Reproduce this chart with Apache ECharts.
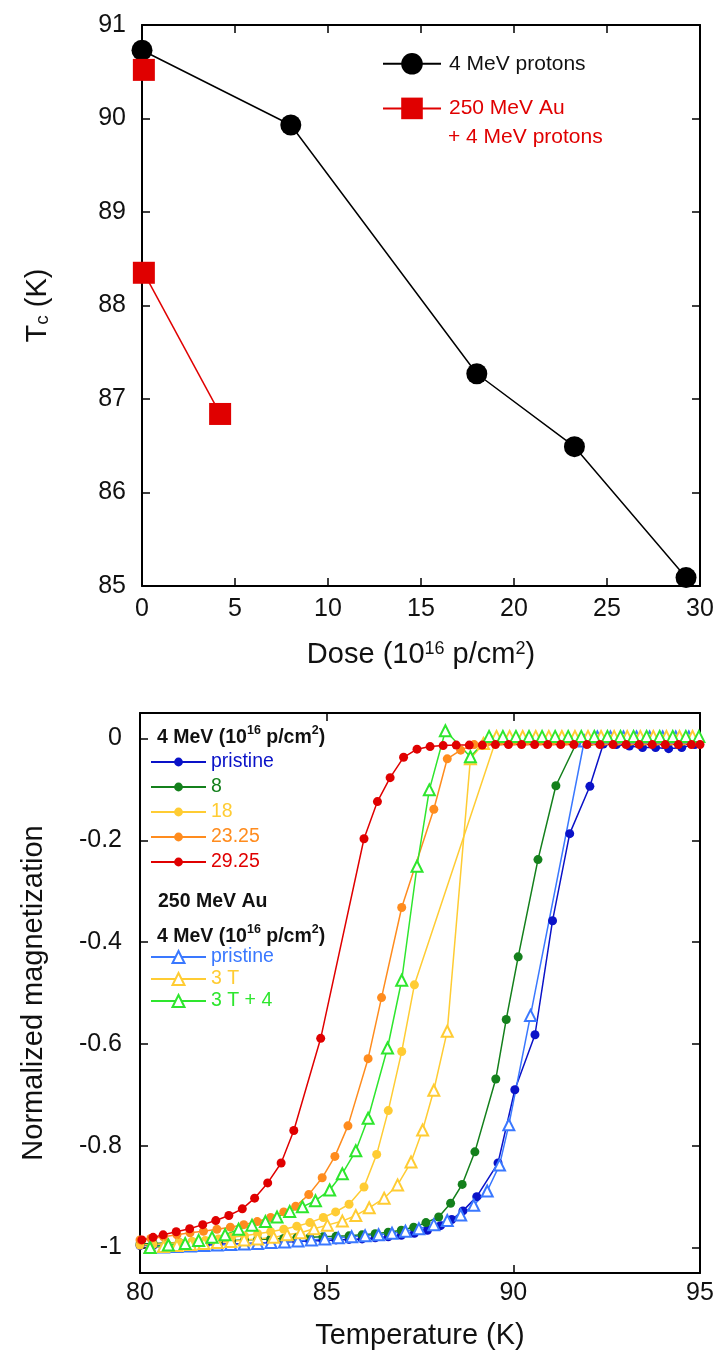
<!DOCTYPE html>
<html><head><meta charset="utf-8">
<script src="https://cdn.jsdelivr.net/npm/echarts@6/dist/echarts.min.js"></script>
<style>html,body{margin:0;padding:0;background:#fff}#c{width:719px;height:1356px}</style>
</head><body><div id="c"></div>
<script>
// ---------- Top panel: Tc vs dose ----------
const doseProtons = [0, 8, 18, 23.25, 29.25];
const tcProtons = [90.73, 89.93, 87.27, 86.49, 85.09];
const doseAuPristine = [0.1];
const tcAuPristine = [90.52];
const doseAu = [0.1, 4.2];
const tcAu = [88.35, 86.84];
const doseTicks = [0, 5, 10, 15, 20, 25, 30];
const tcTicks = [85, 86, 87, 88, 89, 90, 91];

// ---------- Bottom panel: normalized magnetization vs T ----------
const tempTicks = [80, 85, 90, 95];
const magTicks = [-1, -0.8, -0.6, -0.4, -0.2, 0];

const mPristine = [[80.0,-0.996],[80.35,-0.996],[80.7,-0.995],[81.05,-0.995],[81.4,-0.994],[81.75,-0.994],[82.1,-0.993],[82.45,-0.993],[82.8,-0.992],[83.15,-0.991],[83.5,-0.99],[83.85,-0.989],[84.2,-0.988],[84.55,-0.987],[84.9,-0.986],[85.25,-0.985],[85.6,-0.984],[85.95,-0.983],[86.3,-0.981],[86.65,-0.979],[87.0,-0.976],[87.35,-0.972],[87.7,-0.966],[88.05,-0.957],[88.35,-0.945],[88.65,-0.928],[89.02,-0.9],[89.59,-0.834],[90.04,-0.69],[90.58,-0.582],[91.05,-0.358],[91.51,-0.187],[92.05,-0.094],[92.41,-0.011],[92.76,-0.012],[93.11,-0.015],[93.46,-0.018],[93.81,-0.018],[94.16,-0.02],[94.51,-0.018],[94.86,-0.012]];
const m8 = [[80.0,-0.993],[80.35,-0.992],[80.7,-0.991],[81.05,-0.99],[81.4,-0.989],[81.75,-0.988],[82.1,-0.987],[82.45,-0.986],[82.8,-0.985],[83.15,-0.984],[83.5,-0.983],[83.85,-0.982],[84.2,-0.981],[84.55,-0.98],[84.9,-0.979],[85.25,-0.978],[85.6,-0.977],[85.95,-0.975],[86.3,-0.973],[86.65,-0.97],[87.0,-0.966],[87.33,-0.96],[87.66,-0.951],[88.0,-0.94],[88.32,-0.913],[88.63,-0.876],[88.97,-0.812],[89.53,-0.669],[89.81,-0.552],[90.13,-0.429],[90.66,-0.238],[91.14,-0.093],[91.71,-0.006],[92.06,-0.006],[92.41,-0.006],[92.76,-0.006],[93.11,-0.006],[93.46,-0.006],[93.81,-0.006],[94.16,-0.006],[94.51,-0.006],[94.86,-0.006]];
const m18 = [[80.0,-0.995],[80.35,-0.994],[80.7,-0.992],[81.05,-0.99],[81.4,-0.988],[81.75,-0.986],[82.1,-0.983],[82.45,-0.98],[82.8,-0.977],[83.15,-0.973],[83.5,-0.969],[83.85,-0.964],[84.2,-0.958],[84.55,-0.951],[84.91,-0.941],[85.24,-0.93],[85.6,-0.915],[86.0,-0.881],[86.34,-0.817],[86.65,-0.731],[87.01,-0.615],[87.35,-0.484],[89.53,-0.004],[89.88,-0.003],[90.23,-0.003],[90.58,-0.003],[90.93,-0.003],[91.28,-0.003],[91.63,-0.003],[91.98,-0.003],[92.33,-0.003],[92.68,-0.003],[93.03,-0.003],[93.38,-0.003],[93.73,-0.003],[94.08,-0.003],[94.43,-0.003],[94.78,-0.003]];
const m2325 = [[80.0,-0.985],[80.29,-0.982],[80.63,-0.979],[80.99,-0.975],[81.34,-0.971],[81.7,-0.968],[82.06,-0.964],[82.42,-0.96],[82.78,-0.955],[83.14,-0.949],[83.5,-0.941],[83.85,-0.93],[84.17,-0.919],[84.52,-0.896],[84.88,-0.863],[85.22,-0.821],[85.57,-0.761],[86.11,-0.629],[86.47,-0.509],[87.01,-0.332],[87.87,-0.139],[88.23,-0.04],[88.59,-0.023],[88.95,-0.012],[89.3,-0.006],[89.65,-0.005],[90.0,-0.005],[90.35,-0.005],[90.7,-0.005],[91.05,-0.005],[91.4,-0.005],[91.75,-0.005],[92.1,-0.005],[92.45,-0.005],[92.8,-0.005],[93.15,-0.005],[93.5,-0.005],[93.85,-0.005],[94.2,-0.005],[94.55,-0.005],[94.9,-0.005]];
const m2925 = [[80.05,-0.985],[80.35,-0.98],[80.62,-0.975],[80.97,-0.969],[81.33,-0.963],[81.68,-0.955],[82.03,-0.947],[82.38,-0.937],[82.74,-0.924],[83.07,-0.903],[83.42,-0.873],[83.78,-0.834],[84.12,-0.77],[84.84,-0.589],[86.0,-0.197],[86.36,-0.124],[86.7,-0.077],[87.06,-0.037],[87.42,-0.021],[87.77,-0.016],[88.12,-0.014],[88.47,-0.013],[88.82,-0.013],[89.17,-0.013],[89.52,-0.012],[89.87,-0.012],[90.22,-0.012],[90.57,-0.012],[90.92,-0.012],[91.27,-0.012],[91.62,-0.012],[91.97,-0.012],[92.32,-0.012],[92.67,-0.012],[93.02,-0.012],[93.37,-0.012],[93.72,-0.012],[94.07,-0.012],[94.42,-0.012],[94.77,-0.012],[95.0,-0.012]];
const mAuPristine = [[80.27,-1.0],[80.63,-0.999],[80.99,-0.998],[81.35,-0.997],[81.71,-0.996],[82.07,-0.995],[82.43,-0.994],[82.79,-0.993],[83.15,-0.992],[83.51,-0.99],[83.87,-0.989],[84.23,-0.987],[84.59,-0.985],[84.95,-0.983],[85.31,-0.981],[85.67,-0.979],[86.03,-0.977],[86.39,-0.975],[86.75,-0.972],[87.11,-0.968],[87.47,-0.963],[87.87,-0.955],[88.23,-0.947],[88.59,-0.936],[88.94,-0.917],[89.3,-0.889],[89.63,-0.838],[89.88,-0.759],[90.46,-0.544],[91.9,-0.005],[92.25,0.003],[92.6,0.003],[92.95,0.003],[93.3,0.003],[93.65,0.003],[94.0,0.003],[94.35,0.003],[94.7,0.003]];
const m3T = [[80.27,-1.0],[80.63,-0.998],[80.99,-0.996],[81.35,-0.994],[81.71,-0.992],[82.07,-0.99],[82.43,-0.988],[82.79,-0.985],[83.15,-0.983],[83.58,-0.98],[83.94,-0.975],[84.3,-0.971],[84.66,-0.963],[85.02,-0.956],[85.42,-0.948],[85.78,-0.937],[86.14,-0.922],[86.54,-0.903],[86.9,-0.877],[87.26,-0.832],[87.57,-0.769],[87.87,-0.691],[88.23,-0.575],[88.85,-0.04],[89.2,-0.01],[89.55,0.004],[89.9,0.004],[90.25,0.004],[90.6,0.004],[90.95,0.004],[91.3,0.004],[91.65,0.004],[92.0,0.004],[92.35,0.004],[92.7,0.004],[93.05,0.004],[93.4,0.004],[93.75,0.004],[94.1,0.004],[94.45,0.004],[94.8,0.004]];
const m3T4 = [[80.27,-1.0],[80.76,-0.995],[81.21,-0.992],[81.57,-0.986],[81.93,-0.98],[82.28,-0.975],[82.64,-0.964],[83.0,-0.956],[83.36,-0.949],[83.67,-0.94],[84.01,-0.929],[84.35,-0.92],[84.7,-0.908],[85.08,-0.887],[85.42,-0.855],[85.78,-0.81],[86.11,-0.746],[86.63,-0.608],[87.01,-0.475],[87.42,-0.251],[87.75,-0.101],[88.18,0.015],[88.85,-0.036],[89.35,0.004],[89.72,0.004],[90.07,0.004],[90.42,0.004],[90.77,0.004],[91.12,0.004],[91.47,0.004],[91.82,0.004],[92.17,0.004],[92.52,0.004],[92.87,0.004],[93.22,0.004],[93.57,0.004],[93.92,0.004],[94.27,0.004],[94.62,0.004],[94.97,0.004]];

const FONT = 'Liberation Sans, Arial, Helvetica, sans-serif';
const C = {
  pristine: '#0a12c8', d8: '#14801c', d18: '#ffcc33', d2325: '#ff8c1e', d2925: '#e00000',
  auPristine: '#3a78ff', au3T: '#ffcc33', au3T4: '#2ee62e'
};

const chart = echarts.init(document.getElementById('c'), null, {renderer: 'canvas'});

function zip(xs, ys) { return xs.map((x, i) => [x, ys[i]]); }

const axisLineStyle = {onZero: false, lineStyle: {color: '#000', width: 2}};
const tickStyle = {inside: true, length: 8, lineStyle: {color: '#000', width: 1.5}};

function mirrorX(grid, min, max, interval) {
  return {gridIndex: grid, type: 'value', position: 'top', min, max, interval,
    axisLine: axisLineStyle, axisTick: tickStyle, axisLabel: {show: false}, splitLine: {show: false}};
}
function lineSeries(name, data, color, symbol, size, xi, yi) {
  return {
    name, type: 'line', data, xAxisIndex: xi, yAxisIndex: yi,
    symbol, symbolSize: size, showAllSymbol: true,
    lineStyle: {color, width: 1.5}, itemStyle: {color, borderColor: color, borderWidth: symbol.indexOf('empty') === 0 ? 1.6 : 0},
    emphasis: {disabled: true}, animation: false, z: 3
  };
}

const AU_NAME = '250 MeV Au + 4 MeV protons';
const headerRich = {
  b: {fontSize: 19.5, lineHeight: 27, fontWeight: 'bold', fontFamily: FONT, fill: '#111', verticalAlign: 'middle'},
  s: {fontSize: 12.5, lineHeight: 14, fontWeight: 'bold', fontFamily: FONT, fill: '#111', verticalAlign: 'top'}
};

const option = {
  animation: false,
  textStyle: {fontFamily: FONT},
  grid: [
    {left: 142, top: 25, width: 558, height: 561},
    {left: 140, top: 713, width: 560, height: 560}
  ],
  xAxis: [
    {gridIndex: 0, type: 'value', min: doseTicks[0], max: doseTicks[doseTicks.length - 1], interval: 5,
      axisLine: axisLineStyle, axisTick: tickStyle, splitLine: {show: false},
      axisLabel: {fontSize: 25, color: '#111', margin: 11, fontFamily: FONT},
      name: 'Dose (10{sup|16} p/cm{sup|2})', nameLocation: 'middle', nameGap: 54,
      nameTextStyle: {fontSize: 29, color: '#111', fontFamily: FONT,
        rich: {sup: {fontSize: 18, verticalAlign: 'top', color: '#111', fontFamily: FONT, padding: [0, 0, 12, 0]}}}},
    mirrorX(0, 0, 30, 5),
    {gridIndex: 1, type: 'value', min: tempTicks[0], max: tempTicks[tempTicks.length - 1], interval: 5,
      axisLine: axisLineStyle, axisTick: tickStyle, splitLine: {show: false},
      axisLabel: {fontSize: 25, color: '#111', margin: 8, fontFamily: FONT},
      name: 'Temperature (K)', nameLocation: 'middle', nameGap: 48,
      nameTextStyle: {fontSize: 29, color: '#111', fontFamily: FONT}},
    mirrorX(1, 80, 95, 5)
  ],
  yAxis: [
    {gridIndex: 0, type: 'value', min: tcTicks[0], max: tcTicks[tcTicks.length - 1], interval: 1,
      axisLine: axisLineStyle, axisTick: tickStyle, splitLine: {show: false},
      axisLabel: {fontSize: 25, color: '#111', margin: 16, fontFamily: FONT},
      name: 'T{sub|c} (K)', nameLocation: 'middle', nameRotate: 90, nameGap: 90,
      nameTextStyle: {fontSize: 29, color: '#111', fontFamily: FONT,
        rich: {sub: {fontSize: 19, verticalAlign: 'bottom', color: '#111', fontFamily: FONT}}}},
    {gridIndex: 0, type: 'value', position: 'right', min: 85, max: 91, interval: 1,
      axisLine: axisLineStyle, axisTick: tickStyle, axisLabel: {show: false}, splitLine: {show: false}},
    {gridIndex: 1, type: 'value', min: -1.05, max: 0.05,
      axisLine: axisLineStyle, axisTick: Object.assign({customValues: magTicks}, tickStyle), splitLine: {show: false},
      axisLabel: {customValues: magTicks, fontSize: 25, color: '#111', margin: 18, fontFamily: FONT},
      name: 'Normalized magnetization', nameLocation: 'middle', nameRotate: 90, nameGap: 92,
      nameTextStyle: {fontSize: 29, color: '#111', fontFamily: FONT}},
    {gridIndex: 1, type: 'value', position: 'right', min: -1.05, max: 0.05,
      axisLine: axisLineStyle, axisTick: Object.assign({customValues: magTicks}, tickStyle),
      axisLabel: {show: false}, splitLine: {show: false}}
  ],
  legend: [
    {left: 382, top: 53, padding: 0, orient: 'vertical', itemWidth: 58, itemHeight: 27, itemGap: 23, selectedMode: false,
      textStyle: {fontSize: 21, fontFamily: FONT, padding: [0, 0, 0, 3]},
      formatter: n => n === AU_NAME ? '250 MeV Au' : n,
      data: [{name: '4 MeV protons', textStyle: {color: '#111'}}, {name: AU_NAME, textStyle: {color: '#e00000'}}]},
    {left: 150, top: 752, padding: 0, orient: 'vertical', itemWidth: 55, itemHeight: 11, itemGap: 5, selectedMode: false,
      textStyle: {fontSize: 19.5, fontFamily: FONT},
      data: [
        {name: 'pristine', textStyle: {color: C.pristine}},
        {name: '8', textStyle: {color: C.d8}},
        {name: '18', textStyle: {color: C.d18}},
        {name: '23.25', textStyle: {color: C.d2325}},
        {name: '29.25', textStyle: {color: C.d2925}}
      ]},
    {left: 150, top: 947, padding: 0, orient: 'vertical', itemWidth: 55, itemHeight: 15, itemGap: 2, selectedMode: false,
      textStyle: {fontSize: 19.5, fontFamily: FONT},
      formatter: n => n.replace('Au ', ''),
      data: [
        {name: 'Au pristine', textStyle: {color: C.auPristine}},
        {name: 'Au 3 T', textStyle: {color: C.au3T}},
        {name: 'Au 3 T + 4', textStyle: {color: C.au3T4}}
      ]}
  ],
  graphic: [
    {type: 'text', left: 448, top: 127, silent: true,
      style: {text: '+ 4 MeV protons', fill: '#e00000', fontSize: 21, fontFamily: FONT}},
    {type: 'text', left: 157, top: 724, silent: true,
      style: {text: '{b|4 MeV (10}{s|16}{b| p/cm}{s|2}{b|)}', rich: headerRich}},
    {type: 'text', left: 158, top: 892, silent: true,
      style: {text: '250 MeV Au', fill: '#111', fontSize: 19.5, fontWeight: 'bold', fontFamily: FONT}},
    {type: 'text', left: 157, top: 923, silent: true,
      style: {text: '{b|4 MeV (10}{s|16}{b| p/cm}{s|2}{b|)}', rich: headerRich}}
  ],
  series: [
    lineSeries('4 MeV protons', zip(doseProtons, tcProtons), '#000', 'circle', 21, 0, 0),
    lineSeries(AU_NAME, zip(doseAuPristine, tcAuPristine), '#e00000', 'rect', 22, 0, 0),
    lineSeries(AU_NAME, zip(doseAu, tcAu), '#e00000', 'rect', 22, 0, 0),
    lineSeries('pristine', mPristine, C.pristine, 'circle', 9, 2, 2),
    lineSeries('8', m8, C.d8, 'circle', 9, 2, 2),
    lineSeries('18', m18, C.d18, 'circle', 9, 2, 2),
    lineSeries('23.25', m2325, C.d2325, 'circle', 9, 2, 2),
    lineSeries('Au pristine', mAuPristine, C.auPristine, 'emptyTriangle', 11, 2, 2),
    lineSeries('Au 3 T', m3T, C.au3T, 'emptyTriangle', 11, 2, 2),
    lineSeries('Au 3 T + 4', m3T4, C.au3T4, 'emptyTriangle', 11, 2, 2),
    lineSeries('29.25', m2925, C.d2925, 'circle', 9, 2, 2)
  ]
};
chart.setOption(option);
</script>
</body></html>
